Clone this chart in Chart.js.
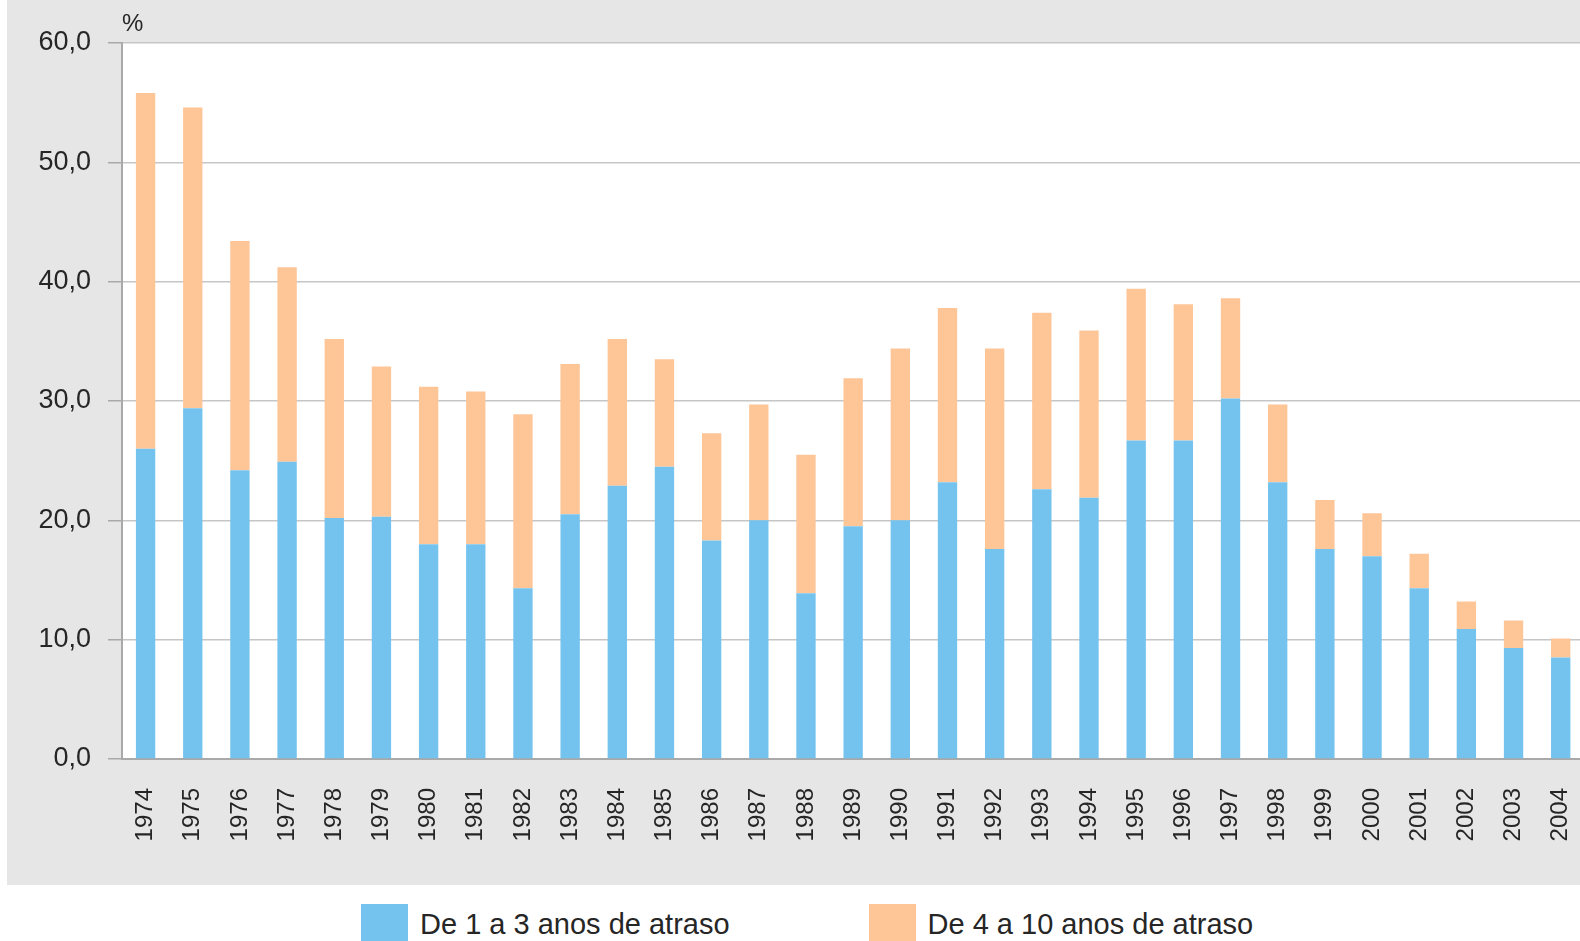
<!DOCTYPE html>
<html>
<head>
<meta charset="utf-8">
<script src="https://cdn.jsdelivr.net/npm/chart.js@4/dist/chart.umd.min.js"></script>
<style>
  html, body { margin: 0; padding: 0; background: #ffffff; overflow: hidden; width: 1580px; height: 941px; }
  #panel { position: absolute; left: 7px; top: 0; width: 1573px; height: 885px; background: #e6e6e6; }
  #graf { position: absolute; left: 0; top: 0; }
  #legenda { position: absolute; left: 361px; top: 904px; font-family: "Liberation Sans", Arial, sans-serif; font-size: 29px; color: #262626; white-space: nowrap; }
  .vnos { display: inline-block; vertical-align: top; }
  .vnos + .vnos { margin-left: 139px; }
  .kvadrat { display: inline-block; width: 47px; height: 42px; vertical-align: top; margin-right: 12px; }
  .besedilo { display: inline-block; line-height: 40px; vertical-align: top; }
</style>
</head>
<body>
<div id="panel"></div>
<canvas id="graf" width="1590" height="885"></canvas>
<div id="legenda"></div>

<script>
// podatki odčitani s slike
var leta = ['1974', '1975', '1976', '1977', '1978', '1979', '1980', '1981', '1982', '1983',
    '1984', '1985', '1986', '1987', '1988', '1989', '1990', '1991', '1992', '1993',
    '1994', '1995', '1996', '1997', '1998', '1999', '2000', '2001', '2002', '2003', '2004'];

var atraso1a3 = [26.0, 29.4, 24.2, 24.9, 20.2, 20.3, 18.0, 18.0, 14.3, 20.5,
    22.9, 24.5, 18.3, 20.0, 13.9, 19.5, 20.0, 23.2, 17.6, 22.6,
    21.9, 26.7, 26.7, 30.2, 23.2, 17.6, 17.0, 14.3, 10.9, 9.3, 8.5];

var atraso4a10 = [29.8, 25.2, 19.2, 16.3, 15.0, 12.6, 13.2, 12.8, 14.6, 12.6,
    12.3, 9.0, 9.0, 9.7, 11.6, 12.4, 14.4, 14.6, 16.8, 14.8,
    14.0, 12.7, 11.4, 8.4, 6.5, 4.1, 3.6, 2.9, 2.3, 2.3, 1.6];

var oznake = ['De 1 a 3 anos de atraso', 'De 4 a 10 anos de atraso'];
var barve = ['#74c3ee', '#fec597'];
var enota = '%';
var yTicks = [0, 10, 20, 30, 40, 50, 60];

var pisava = '"Liberation Sans", Arial, sans-serif';
var barvaBesedila = '#262626';

// bela podlaga za graf in znak % nad osjo
var ozadjePlugin = {
    id: 'ozadje',
    beforeDraw: function (chart) {
        var ctx = chart.ctx;
        var a = chart.chartArea;
        ctx.save();
        ctx.fillStyle = '#ffffff';
        ctx.fillRect(a.left, a.top, a.right - a.left, a.bottom - a.top);
        ctx.restore();
    },
    afterDraw: function (chart) {
        var ctx = chart.ctx;
        var a = chart.chartArea;
        ctx.save();
        ctx.fillStyle = barvaBesedila;
        ctx.font = '24px ' + pisava;
        ctx.textBaseline = 'middle';
        ctx.textAlign = 'left';
        ctx.fillText(enota, a.left, a.top - 19);
        ctx.restore();
    }
};

function narisiGraf() {
    var ctx = document.getElementById('graf').getContext('2d');
    var myChart = new Chart(ctx, {
        type: 'bar',
        data: {
            labels: leta,
            datasets: [{
                label: oznake[0],
                data: atraso1a3,
                backgroundColor: barve[0],
                borderWidth: 0
            }, {
                label: oznake[1],
                data: atraso4a10,
                backgroundColor: barve[1],
                borderWidth: 0
            }]
        },
        options: {
            responsive: false,
            animation: false,
            categoryPercentage: 1,
            barPercentage: 0.41,
            layout: { padding: { top: 43, left: 0, right: 5.7, bottom: 0 } },
            plugins: {
                legend: { display: false },
                tooltip: { enabled: false }
            },
            scales: {
                x: {
                    stacked: true,
                    grid: { display: false, drawTicks: false },
                    border: { display: true, color: '#a9a9a9', width: 2 },
                    ticks: {
                        autoSkip: false,
                        maxRotation: 90,
                        minRotation: 90,
                        padding: 29,
                        color: barvaBesedila,
                        font: { family: pisava, size: 24 }
                    },
                    afterFit: function (scale) {
                        scale.height = 126;
                        // brez dodatnega roba zaradi zasukanih oznak
                        scale.paddingLeft = 0;
                        scale.paddingRight = 0;
                    }
                },
                y: {
                    stacked: true,
                    min: 0,
                    max: 60,
                    afterBuildTicks: function (scale) {
                        scale.ticks = yTicks.map(function (v) { return { value: v }; });
                    },
                    grid: { color: '#c6c6c6', lineWidth: 1.5, tickLength: 14, tickColor: '#a9a9a9' },
                    border: { display: true, color: '#a9a9a9', width: 2 },
                    ticks: {
                        padding: 17,
                        color: barvaBesedila,
                        font: { family: pisava, size: 27 },
                        callback: function (v) { return v.toFixed(1).replace('.', ','); }
                    },
                    afterFit: function (scale) { scale.width = 122; }
                }
            }
        },
        plugins: [ozadjePlugin]
    });

    // legenda pod grafom
    var legenda = document.getElementById('legenda');
    myChart.data.datasets.forEach(function (ds) {
        var vnos = document.createElement('span');
        vnos.className = 'vnos';
        var kvadrat = document.createElement('span');
        kvadrat.className = 'kvadrat';
        kvadrat.style.background = ds.backgroundColor;
        var besedilo = document.createElement('span');
        besedilo.className = 'besedilo';
        besedilo.textContent = ds.label;
        vnos.appendChild(kvadrat);
        vnos.appendChild(besedilo);
        legenda.appendChild(vnos);
    });
}

narisiGraf();
</script>
</body>
</html>
